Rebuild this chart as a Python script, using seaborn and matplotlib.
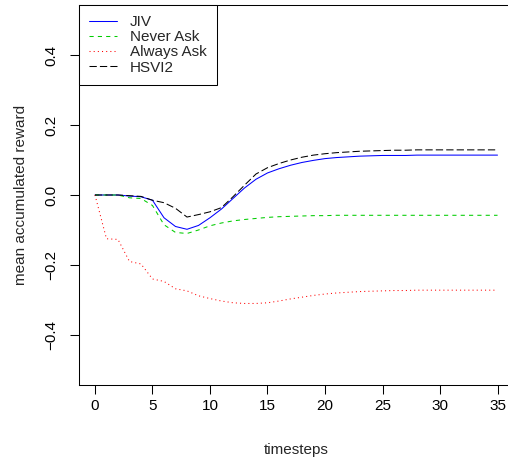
import matplotlib
matplotlib.use("Agg")
import matplotlib.pyplot as plt
from matplotlib.lines import Line2D
import numpy as np
import pandas as pd
import seaborn as sns

### data
timesteps = list(range(36))
jiv = [0, 0, 0, -0.003, -0.005, -0.015, -0.065, -0.09, -0.098, -0.087,
       -0.065, -0.04, -0.01, 0.02, 0.045, 0.063, 0.075, 0.085, 0.093, 0.099,
       0.104, 0.107, 0.109, 0.111, 0.112, 0.113, 0.113, 0.113, 0.114, 0.114,
       0.114, 0.114, 0.114, 0.114, 0.114, 0.114]
never_ask = [0, 0, 0, -0.008, -0.01, -0.03, -0.085, -0.107, -0.11, -0.1,
             -0.088, -0.08, -0.074, -0.07, -0.067, -0.064, -0.062, -0.061, -0.06, -0.059,
             -0.059, -0.058, -0.058, -0.058, -0.058, -0.058, -0.058, -0.058, -0.058, -0.058,
             -0.058, -0.058, -0.058, -0.058, -0.058, -0.058]
always_ask = [0, -0.125, -0.127, -0.19, -0.197, -0.24, -0.247, -0.268, -0.274, -0.288,
              -0.296, -0.303, -0.308, -0.31, -0.31, -0.308, -0.303, -0.297, -0.292, -0.287,
              -0.283, -0.28, -0.278, -0.276, -0.275, -0.274, -0.273, -0.273, -0.272, -0.272,
              -0.272, -0.272, -0.272, -0.272, -0.272, -0.272]
hsvi2 = [0, 0, 0, -0.002, -0.004, -0.015, -0.022, -0.038, -0.063, -0.056,
         -0.048, -0.036, -0.005, 0.028, 0.06, 0.078, 0.09, 0.1, 0.108, 0.114,
         0.118, 0.121, 0.123, 0.125, 0.126, 0.127, 0.128, 0.128, 0.129, 0.129,
         0.129, 0.129, 0.129, 0.129, 0.129, 0.129]

methods = ["JIV", "Never Ask", "Always Ask", "HSVI2"]
colours = {"JIV": "#0000FF", "Never Ask": "#00CD00", "Always Ask": "#FF0000", "HSVI2": "#000000"}
# R style line types: solid, dashed, dotted, longdash
dash_styles = {"JIV": "", "Never Ask": (4, 4), "Always Ask": (1, 3), "HSVI2": (7, 3)}

# long format for seaborn
df = pd.concat(
    [
        pd.DataFrame({"timesteps": timesteps, "reward": vals, "method": name})
        for name, vals in zip(methods, [jiv, never_ask, always_ask, hsvi2])
    ],
    ignore_index=True,
)

sns.set_style("ticks")
plt.rcParams["font.family"] = ["Liberation Sans", "DejaVu Sans"]
plt.rcParams["font.size"] = 11

fig = plt.figure(figsize=(5.08, 4.58), dpi=100)
# plot region placed like the R device (right edge runs off the picture)
ax = fig.add_axes([79 / 508, 1 - 385 / 458, (513.5 - 79) / 508, 380 / 458])

sns.lineplot(
    data=df, x="timesteps", y="reward", hue="method", style="method",
    hue_order=methods, style_order=methods, palette=colours, dashes=dash_styles,
    linewidth=0.75, legend=False, ax=ax,
)

ax.set_xlim(-1.39, 36.39)
ax.set_ylim(-0.543, 0.543)
ax.set_xticks([0, 5, 10, 15, 20, 25, 30, 35])
ax.set_yticks([-0.4, -0.2, 0.0, 0.2, 0.4])
ax.set_yticklabels(["\u22120.4", "\u22120.2", "0.0", "0.2", "0.4"], rotation=90, va="center")
ax.tick_params(axis="both", direction="out", length=6.5, width=0.75, colors="black", labelsize=11)
ax.tick_params(axis="x", pad=3.5)
ax.tick_params(axis="y", pad=8.5)
for side in ["top", "right", "bottom", "left"]:
    ax.spines[side].set_visible(True)
    ax.spines[side].set_linewidth(0.75)
    ax.spines[side].set_color("black")

ax.set_xlabel("timesteps", fontsize=11, labelpad=22)
ax.set_ylabel("mean accumulated reward", fontsize=11, labelpad=11.5)

# legend in the top left corner, boxed like base R
handles = []
for name in methods:
    h = Line2D([], [], color=colours[name], linewidth=0.75)
    if dash_styles[name]:
        h.set_dashes(dash_styles[name])
    handles.append(h)
leg = ax.legend(
    handles, methods, loc="upper left", bbox_to_anchor=(0, 1),
    borderaxespad=0, fancybox=False, framealpha=1, edgecolor="black",
    fontsize=11, borderpad=0.65, handlelength=1.83, handletextpad=0.85,
    labelspacing=0.08,
)
leg.get_frame().set_linewidth(0.75)

plt.savefig("out.png", dpi=100)
plt.close()
